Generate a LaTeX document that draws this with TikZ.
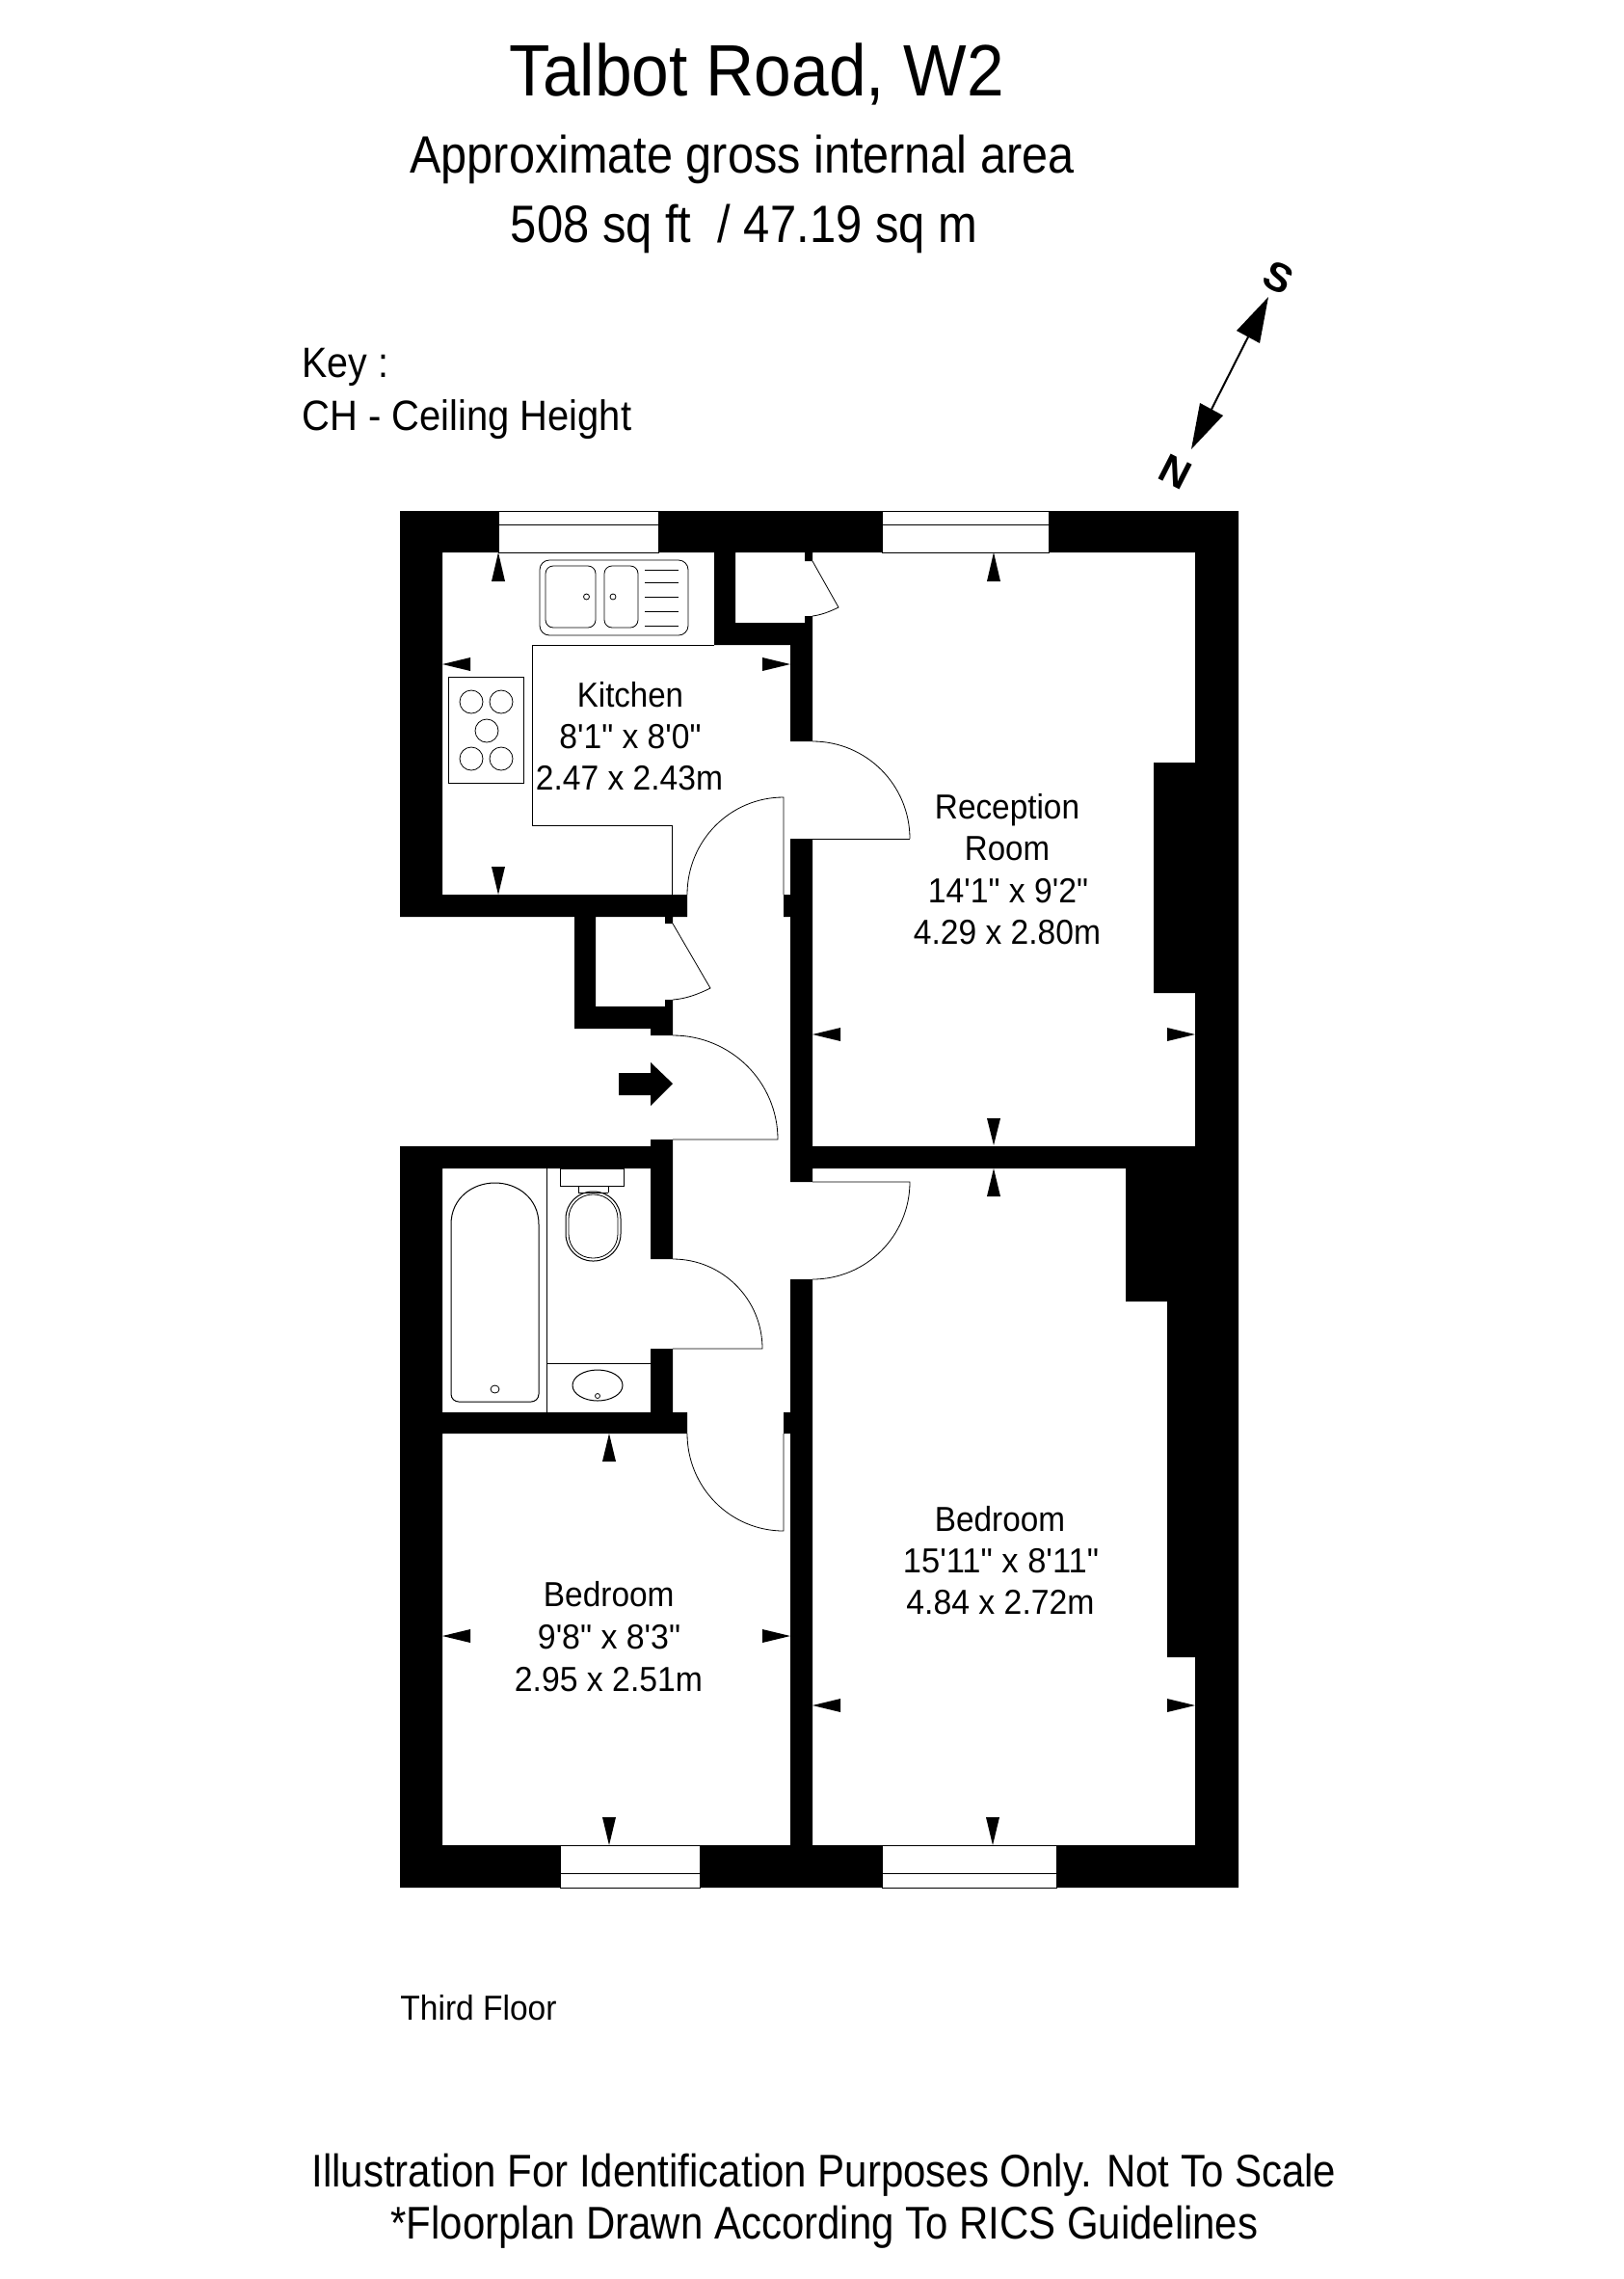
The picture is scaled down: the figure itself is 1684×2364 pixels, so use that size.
\documentclass[tikz,border=0pt]{standalone}
\usepackage{graphicx}
\usepackage{fontspec}
\newfontfamily\rawf{Liberation Sans}
\newcommand{\lbl}[6]{% name, left, baseline, size, width, text
  \pgfmathsetmacro{\myleft}{#2-0.03*#4}%
  \node[inner sep=0pt,outer sep=0pt,anchor=base west] (#1) at (\myleft,#3) {%
    \sbox0{\rawf\fontsize{#4pt}{#4pt}\selectfont #6}%
    \pgfmathsetmacro{\myxs}{(#5+0.06*#4)/(\the\wd0)}%
    \scalebox{\myxs}[1]{\usebox0}};}
\newcommand{\headD}[3]{\fill (#1,#2) -- (#1-7,#3) -- (#1+7,#3) -- cycle;}% vertical head: tip x, tip y, base y
\newcommand{\headH}[3]{\fill (#2,#1) -- (#3,#1-7) -- (#3,#1+7) -- cycle;}% horizontal head: tip y, tip x, base x
\tikzset{
  thin line/.style={draw=black,line width=1pt},
  fine line/.style={draw=black,line width=0.8pt},
  window/.style={fill=white,draw=black,line width=1pt},
}
\begin{document}
\begin{tikzpicture}[x=1pt,y=-1pt]
\useasboundingbox[fill=white] (0,0) rectangle (1684,2364);
% walls
\fill[black]
 (415,530) rectangle (1285,573)
 (415,530) rectangle (459,951)
 (415,928) rectangle (713,951)
 (741,573) rectangle (763,669)
 (741,646) rectangle (843,669)
 (820,646) rectangle (843,769)
 (835,573) rectangle (843,582)
 (835,639) rectangle (843,646)
 (820,870) rectangle (843,1226)
 (813,928) rectangle (820,951)
 (813,1465) rectangle (820,1487)
 (596,951) rectangle (618,1067)
 (596,1044) rectangle (698,1067)
 (675,1067) rectangle (698,1074)
 (690,951) rectangle (698,958)
 (690,1037) rectangle (698,1044)
 (415,1189) rectangle (698,1212)
 (675,1182) rectangle (698,1189)
 (675,1212) rectangle (698,1306)
 (675,1399) rectangle (698,1465)
 (415,1465) rectangle (713,1487)
 (415,1189) rectangle (459,1958)
 (1240,530) rectangle (1285,1958)
 (1197,791) rectangle (1240,1030)
 (843,1189) rectangle (1285,1212)
 (1168,1212) rectangle (1240,1350)
 (1211,1350) rectangle (1240,1719)
 (820,1327) rectangle (843,1958)
 (415,1914) rectangle (1285,1958);
% windows
\path[window] (517,530) rectangle (683,573);
\draw[thin line] (517,544) -- (683,544);
\path[window] (915,530) rectangle (1088,573);
\draw[thin line] (915,544) -- (1088,544);
\path[window] (581,1914) rectangle (726,1958);
\draw[thin line] (581,1943) -- (726,1943);
\path[window] (915,1914) rectangle (1096,1958);
\draw[thin line] (915,1943) -- (1096,1943);
% doors
\draw[fine line] (944,870) -- (843,870);
\draw[fine line] (944,870) .. controls (944,814.2) and (898.8,769) .. (843,769);
\draw[fine line] (713,928) .. controls (713,871.8) and (757.8,827) .. (813,827) -- (813,928);
\draw[fine line] (843,582) -- (870,630) .. controls (862,634) and (852,638) .. (843,639);
\draw[fine line] (698,958) -- (737,1025) .. controls (725,1031) and (712,1036) .. (698,1037);
\draw[fine line] (698,1074) .. controls (758,1074) and (807,1122) .. (807,1182) -- (698,1182);
\draw[fine line] (698,1306) .. controls (749.4,1306) and (791,1347.6) .. (791,1399) -- (698,1399);
\draw[fine line] (843,1226) -- (944,1226) .. controls (944,1281.8) and (898.8,1327) .. (843,1327);
\draw[fine line] (713,1487) .. controls (713,1543) and (757.8,1588) .. (813,1588) -- (813,1487);
% kitchen worktop
\draw[thin line] (741,669) -- (552,669) -- (552,856) -- (697,856) -- (697,928);
% sink
\draw[fine line,rounded corners=10pt] (560,581) rectangle (714,659);
\draw[fine line,rounded corners=8pt] (566,587) rectangle (618,651);
\draw[fine line,rounded corners=8pt] (627,587) rectangle (662,651);
\draw[fine line] (608.5,619) circle (3);
\draw[fine line] (636,619) circle (3);
\draw[fine line] (669,591) -- (704,591) (669,604) -- (704,604) (669,619) -- (704,619) (669,634) -- (704,634) (669,649) -- (704,649);
% hob
\draw[thin line] (465,702) rectangle (543,812);
\foreach \ringx/\ringy in {489/728,520/728,505/758,489/787,520/787}
  \draw[fine line] (\ringx,\ringy) circle (12);
% bathroom
\draw[thin line] (567,1212) -- (567,1465);
\draw[thin line] (567,1414) -- (675,1414);
\draw[thin line] (468,1270) .. controls (468,1243) and (490,1227) .. (513.5,1227) .. controls (537,1227) and (559,1243) .. (559,1270) -- (559,1446) .. controls (559,1451) and (555,1454) .. (551,1454) -- (476,1454) .. controls (472,1454) and (468,1451) .. (468,1446) -- cycle;
\draw[fine line] (513.5,1441) ellipse (4.5 and 4);
\draw[thin line] (581,1212) rectangle (647,1230);
\draw[thin line] (600,1230) -- (600,1237) (631,1230) -- (631,1237);
\draw[fine line] (600,1237) -- (631,1237);
\draw[thin line,rounded corners=28pt] (587,1236) rectangle (644,1308);
\draw[fine line,rounded corners=25pt] (590,1239) rectangle (641,1305);
\draw[thin line] (620,1437) ellipse (26 and 16);
\draw[fine line] (620,1448) circle (2.5);
% dimension arrowheads
\headD{517}{573}{603}
\headD{517}{928}{899}
\headH{689}{459}{488}
\headH{689}{820}{791}
\headD{1031}{573}{603}
\headD{1031}{1188}{1160}
\headD{1031}{1212}{1241}
\headH{1073}{843}{872}
\headH{1073}{1240}{1211}
\headH{1769}{843}{872}
\headH{1769}{1240}{1211}
\headD{1030}{1914}{1885}
\headH{1697}{459}{488}
\headH{1697}{820}{791}
\headD{632}{1914}{1885}
\headD{632}{1487}{1516}
% entrance arrow
\fill (642,1113) -- (675,1113) -- (675,1102) -- (698,1124) -- (675,1147) -- (675,1136) -- (642,1136) -- cycle;
% compass
\draw[line width=2pt] (1295,349.5) -- (1257,424.5);
\fill (1316,308) -- (1283,343) -- (1307,356) -- cycle;
\fill (1236,466) -- (1245,418) -- (1269,431) -- cycle;
\node[rotate=-27,inner sep=0pt,font={\rawf\fontsize{42pt}{42pt}\bfseries\selectfont}] (south) at (1327,288) {S};
\node[rotate=-27,inner sep=0pt,font={\rawf\fontsize{42pt}{42pt}\bfseries\selectfont}] (north) at (1220,490) {N};
% text
\lbl{title}{530.5}{99}{75.5}{509}{Talbot Road, W2}
\lbl{sub}{427}{179}{54.5}{686}{Approximate gross internal area}
\lbl{area}{531.5}{251}{54.5}{481}{508 sq ft\ \ / 47.19 sq m}
\lbl{key}{315}{391}{44}{87}{Key :}
\lbl{ch}{315}{446}{44}{339}{CH - Ceiling Height}
\lbl{k1}{600}{733}{36}{108}{Kitchen}
\lbl{k2}{581.5}{776}{36}{145}{8'1" x 8'0"}
\lbl{k3}{557}{819}{36}{192}{2.47 x 2.43m}
\lbl{r1}{971}{849}{36}{148}{Reception}
\lbl{r2}{1002}{892}{36}{86}{Room}
\lbl{r3}{964}{936}{36}{164}{14'1" x 9'2"}
\lbl{r4}{949}{979}{36}{192}{4.29 x 2.80m}
\lbl{b1}{971}{1588}{36}{133}{Bedroom}
\lbl{b2}{938}{1631}{36}{201}{15'11" x 8'11"}
\lbl{b3}{941.5}{1674}{36}{193}{4.84 x 2.72m}
\lbl{c1}{565}{1666}{36}{133.5}{Bedroom}
\lbl{c2}{559}{1710}{36}{146}{9'8" x 8'3"}
\lbl{c3}{535}{1754}{36}{193}{2.95 x 2.51m}
\lbl{floor}{416.5}{2095}{36}{160}{Third Floor}
\lbl{note1}{325}{2268}{47.5}{1060}{Illustration For Identification Purposes Only. Not To Scale}
\lbl{note2}{407}{2322}{47.5}{897}{*Floorplan Drawn According To RICS Guidelines}
\end{tikzpicture}
\end{document}
